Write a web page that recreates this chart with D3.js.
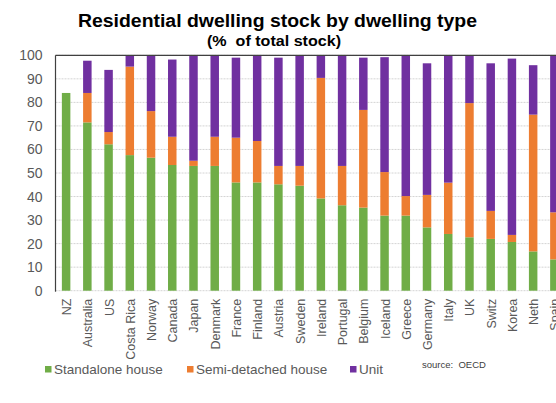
<!DOCTYPE html>
<html>
<head>
<meta charset="utf-8">
<script src="https://cdn.jsdelivr.net/npm/d3@7"></script>
<style>
  html, body { margin: 0; padding: 0; background: #fff; overflow: hidden; }
  svg { display: block; font-family: "Liberation Sans", Arial, sans-serif; }
</style>
</head>
<body>
<svg id="chart" width="556" height="403"></svg>
<script>
// Share of residential dwelling stock, % of total, by country
const countries = ["NZ", "Australia", "US", "Costa Rica", "Norway", "Canada", "Japan", "Denmark",
  "France", "Finland", "Austria", "Sweden", "Ireland", "Portugal", "Belgium", "Iceland",
  "Greece", "Germany", "Italy", "UK", "Switz", "Korea", "Neth", "Spain"];
const standalone = [84, 71.5, 62.2, 57.6, 56.5, 53.4, 53.0, 53.0, 46.0, 46.0, 45.2, 44.6,
  39.2, 36.3, 35.3, 31.9, 31.9, 26.9, 24.1, 22.7, 22.0, 20.7, 16.7, 13.3];
const semiDetached = [0, 12.5, 5.2, 37.6, 19.8, 12.0, 2.2, 12.4, 19.0, 17.6, 7.8, 8.4,
  51.2, 16.7, 41.5, 18.5, 8.3, 13.8, 21.8, 57.0, 11.9, 3.0, 58.1, 20.0];
const unit = [0, 13.7, 26.4, 4.8, 23.7, 32.8, 44.8, 34.6, 34.0, 36.4, 46.0, 47.0,
  9.6, 47.0, 22.2, 48.8, 59.8, 55.9, 54.1, 20.3, 62.7, 74.9, 21.0, 66.7];
const yTicks = [0, 10, 20, 30, 40, 50, 60, 70, 80, 90, 100];

const seriesKeys = ["Standalone house", "Semi-detached house", "Unit"];
const seriesColors = ["#70AD47", "#ED7D31", "#7030A0"];

const rows = countries.map((c, i) => ({
  country: c,
  "Standalone house": standalone[i],
  "Semi-detached house": semiDetached[i],
  "Unit": unit[i]
}));

const svg = d3.select("#chart");
const plot = { left: 55.5, right: 565, top: 55.3, bottom: 290.7 };

const x = d3.scaleBand()
  .domain(countries)
  .range([plot.left, plot.right])
  .paddingInner(0.6)
  .paddingOuter(0.3);

const y = d3.scaleLinear()
  .domain([0, 100])
  .range([plot.bottom, plot.top]);

// Title (slightly wide lettering)
svg.append("text")
  .attr("x", 78).attr("y", 27)
  .attr("font-size", 17.5).attr("font-weight", "bold").attr("fill", "#000")
  .attr("textLength", 399).attr("lengthAdjust", "spacingAndGlyphs")
  .text("Residential dwelling stock by dwelling type");
svg.append("text")
  .attr("x", 207).attr("y", 46)
  .attr("font-size", 14).attr("font-weight", "bold").attr("fill", "#000")
  .attr("textLength", 134).attr("lengthAdjust", "spacingAndGlyphs")
  .attr("xml:space", "preserve")
  .text("(%  of total stock)");

// Gridlines
svg.append("g")
  .selectAll("line")
  .data(yTicks)
  .join("line")
  .attr("x1", plot.left).attr("x2", 556)
  .attr("y1", d => y(d)).attr("y2", d => y(d))
  .attr("stroke", "#d4d4d4")
  .attr("stroke-width", 1)
  .attr("stroke-dasharray", "2,1");

// Y axis labels
const yAxis = d3.axisLeft(y).tickValues(yTicks).tickSize(0).tickPadding(13);
const yg = svg.append("g")
  .attr("transform", `translate(${plot.left},0)`)
  .call(yAxis);
yg.select(".domain").remove();
yg.selectAll("text")
  .attr("font-size", 14)
  .attr("font-family", "Liberation Sans, Arial, sans-serif")
  .attr("fill", "#595959");

// Stacked bars
const stacked = d3.stack().keys(seriesKeys)(rows);
svg.append("g")
  .selectAll("g")
  .data(stacked)
  .join("g")
  .attr("fill", (d, i) => seriesColors[i])
  .selectAll("rect")
  .data(d => d)
  .join("rect")
  .attr("x", d => x(d.data.country))
  .attr("width", x.bandwidth())
  .attr("y", d => y(d[1]))
  .attr("height", d => Math.max(0, y(d[0]) - y(d[1])));

// Frame: top border and left axis
svg.append("line")
  .attr("x1", plot.left).attr("x2", 556)
  .attr("y1", plot.top).attr("y2", plot.top)
  .attr("stroke", "#404040").attr("stroke-width", 1.2);
svg.append("line")
  .attr("x1", plot.left).attr("x2", plot.left)
  .attr("y1", plot.top).attr("y2", plot.bottom + 1)
  .attr("stroke", "#404040").attr("stroke-width", 1.2);

// Country labels, rotated
const xAxis = d3.axisBottom(x).tickSize(0).tickPadding(0);
const xg = svg.append("g")
  .attr("transform", `translate(0,${plot.bottom})`)
  .call(xAxis);
xg.select(".domain").remove();
xg.selectAll("text")
  .attr("font-size", 12.5)
  .attr("font-family", "Liberation Sans, Arial, sans-serif")
  .attr("fill", "#595959")
  .attr("text-anchor", "end")
  .attr("transform", "rotate(-90)")
  .attr("x", -8)
  .attr("y", 0)
  .attr("dy", "0.4em");

// Legend
const legendX = [45, 187, 350];
const legend = svg.append("g");
seriesKeys.forEach((k, i) => {
  legend.append("rect")
    .attr("x", legendX[i]).attr("y", 366)
    .attr("width", 6.5).attr("height", 6.5)
    .attr("fill", seriesColors[i]);
  legend.append("text")
    .attr("x", legendX[i] + 9).attr("y", 374)
    .attr("font-size", 13.5).attr("fill", "#595959")
    .text(k);
});

// Source note
svg.append("text")
  .attr("x", 422).attr("y", 368)
  .attr("font-size", 9.5).attr("fill", "#404040")
  .attr("xml:space", "preserve")
  .text("source:  OECD");
</script>
</body>
</html>
